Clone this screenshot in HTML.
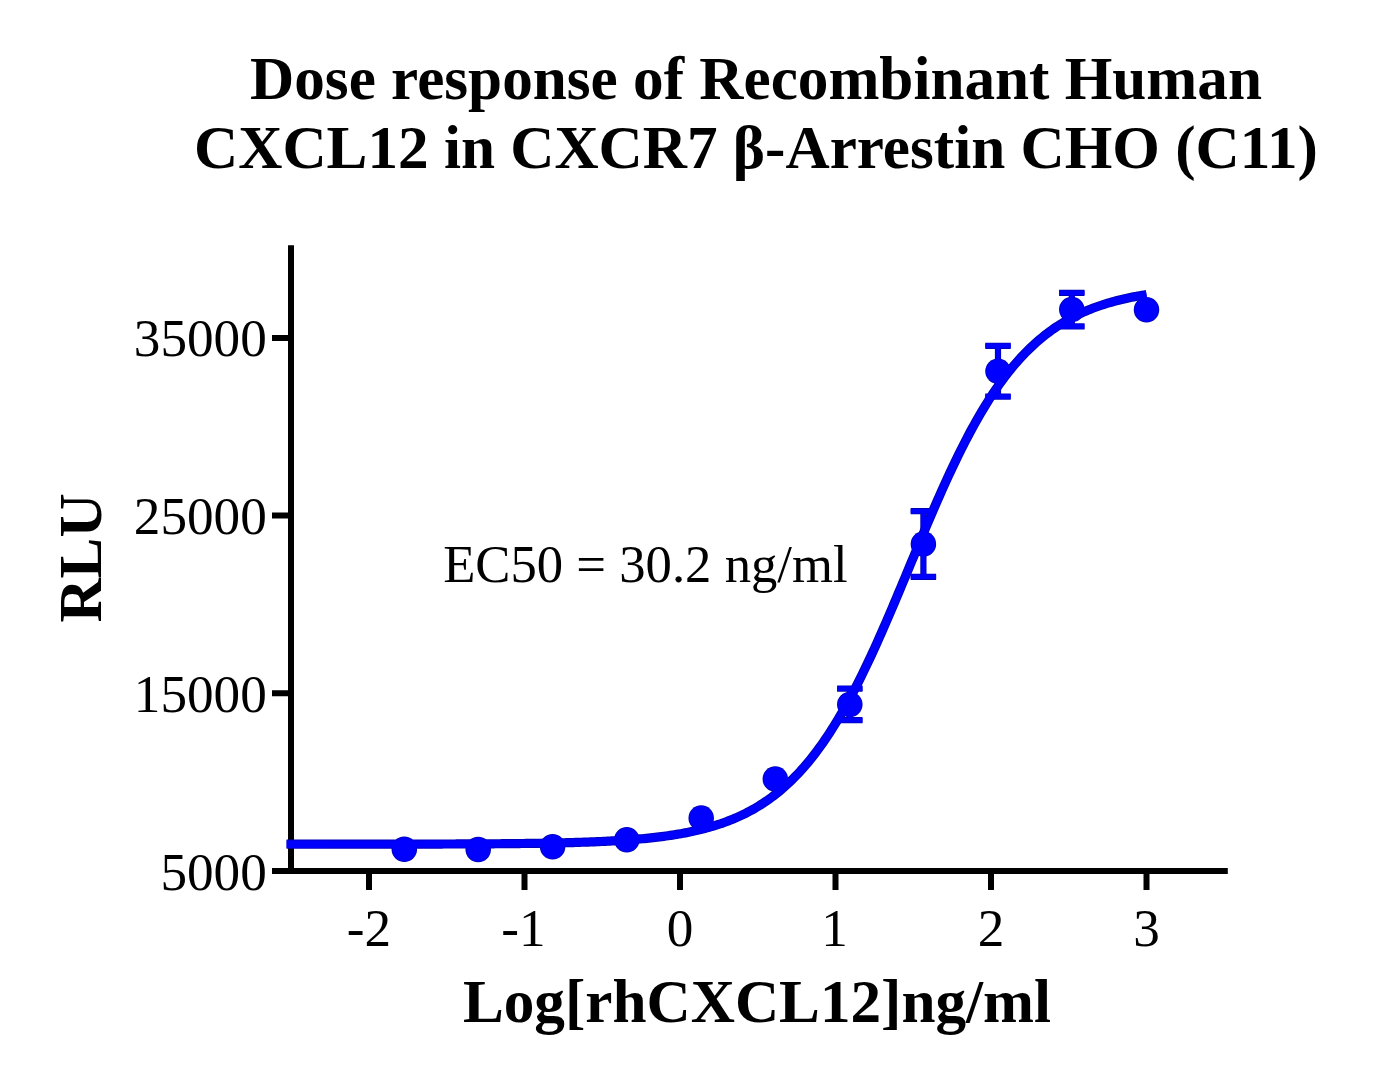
<!DOCTYPE html>
<html><head><meta charset="utf-8"><style>
html,body{margin:0;padding:0;background:#fff;}
svg{display:block;}
text{font-family:"Liberation Serif",serif;fill:#000;}
.t{font-weight:bold;font-size:61.2px;}
.n{font-size:53.2px;}
.e{font-size:52.7px;}
</style></head><body>
<svg width="1375" height="1080" viewBox="0 0 1375 1080">
<rect width="1375" height="1080" fill="#fff"/>
<text class="t" x="756" y="99.3" text-anchor="middle">Dose response of Recombinant Human</text>
<text class="t" x="756" y="168.3" text-anchor="middle">CXCL12 in CXCR7 β-Arrestin CHO (C11)</text>
<g stroke="#000" stroke-width="6" fill="none" stroke-linecap="butt">
<path d="M291,245.3 V874 M272,871 H1227.8"/>
<path d="M272,871.0 H291 M272,693.3 H291 M272,515.6 H291 M272,337.9 H291 M369.0,871 V890 M524.5,871 V890 M680.0,871 V890 M835.5,871 V890 M991.0,871 V890 M1146.5,871 V890 "/>
</g>
<g class="n">
<text x="266.8" y="889.5" text-anchor="end">5000</text>
<text x="266.8" y="711.8" text-anchor="end">15000</text>
<text x="266.8" y="534.1" text-anchor="end">25000</text>
<text x="266.8" y="356.4" text-anchor="end">35000</text>
<text x="369.0" y="946" text-anchor="middle">-2</text>
<text x="523.5" y="946" text-anchor="middle">-1</text>
<text x="680.0" y="946" text-anchor="middle">0</text>
<text x="834.5" y="946" text-anchor="middle">1</text>
<text x="991.0" y="946" text-anchor="middle">2</text>
<text x="1146.5" y="946" text-anchor="middle">3</text>
</g>
<text class="t" x="757" y="1022.4" text-anchor="middle">Log[rhCXCL12]ng/ml</text>
<text class="t" transform="translate(100.7,558) rotate(-90)" text-anchor="middle">RLU</text>
<text class="e" x="443.2" y="581.8">EC50 = 30.2 ng/ml</text>
<g fill="none" stroke="#0000b8" stroke-linejoin="round"><path d="M286.59,844.19 L288.74,844.19 L290.90,844.19 L293.05,844.19 L295.21,844.19 L297.36,844.19 L299.52,844.19 L301.67,844.18 L303.83,844.18 L305.98,844.18 L308.14,844.18 L310.29,844.18 L312.45,844.18 L314.60,844.18 L316.76,844.18 L318.91,844.18 L321.07,844.18 L323.22,844.18 L325.38,844.18 L327.53,844.18 L329.69,844.17 L331.84,844.17 L334.00,844.17 L336.15,844.17 L338.31,844.17 L340.46,844.17 L342.62,844.17 L344.77,844.17 L346.93,844.17 L349.09,844.16 L351.24,844.16 L353.40,844.16 L355.55,844.16 L357.71,844.16 L359.86,844.16 L362.02,844.16 L364.17,844.15 L366.33,844.15 L368.48,844.15 L370.64,844.15 L372.79,844.15 L374.95,844.15 L377.10,844.14 L379.26,844.14 L381.41,844.14 L383.57,844.14 L385.72,844.13 L387.88,844.13 L390.03,844.13 L392.19,844.13 L394.34,844.12 L396.50,844.12 L398.65,844.12 L400.81,844.11 L402.96,844.11 L405.12,844.11 L407.27,844.10 L409.43,844.10 L411.59,844.10 L413.74,844.09 L415.90,844.09 L418.05,844.08 L420.21,844.08 L422.36,844.08 L424.52,844.07 L426.67,844.07 L428.83,844.06 L430.98,844.06 L433.14,844.05 L435.29,844.04 L437.45,844.04 L439.60,844.03 L441.76,844.03 L443.91,844.02 L446.07,844.01 L448.22,844.01 L450.38,844.00 L452.53,843.99 L454.69,843.98 L456.84,843.97 L459.00,843.97 L461.15,843.96 L463.31,843.95 L465.46,843.94 L467.62,843.93 L469.77,843.92 L471.93,843.91 L474.09,843.90 L476.24,843.89 L478.40,843.87 L480.55,843.86 L482.71,843.85 L484.86,843.83 L487.02,843.82 L489.17,843.81 L491.33,843.79 L493.48,843.78 L495.64,843.76 L497.79,843.74 L499.95,843.73 L502.10,843.71 L504.26,843.69 L506.41,843.67 L508.57,843.65 L510.72,843.63 L512.88,843.61 L515.03,843.59 L517.19,843.56 L519.34,843.54 L521.50,843.51 L523.65,843.49 L525.81,843.46 L527.96,843.43 L530.12,843.40 L532.27,843.37 L534.43,843.34 L536.59,843.31 L538.74,843.28 L540.90,843.24 L543.05,843.21 L545.21,843.17 L547.36,843.13 L549.52,843.09 L551.67,843.05 L553.83,843.00 L555.98,842.96 L558.14,842.91 L560.29,842.86 L562.45,842.81 L564.60,842.76 L566.76,842.70 L568.91,842.65 L571.07,842.59 L573.22,842.53 L575.38,842.47 L577.53,842.40 L579.69,842.33 L581.84,842.26 L584.00,842.19 L586.15,842.11 L588.31,842.03 L590.46,841.95 L592.62,841.87 L594.78,841.78 L596.93,841.69 L599.09,841.59 L601.24,841.50 L603.40,841.40 L605.55,841.29 L607.71,841.18 L609.86,841.07 L612.02,840.95 L614.17,840.83 L616.33,840.70 L618.48,840.57 L620.64,840.43 L622.79,840.29 L624.95,840.14 L627.10,839.99 L629.26,839.83 L631.41,839.67 L633.57,839.50 L635.72,839.32 L637.88,839.14 L640.03,838.95 L642.19,838.75 L644.34,838.55 L646.50,838.34 L648.65,838.12 L650.81,837.89 L652.96,837.65 L655.12,837.41 L657.28,837.15 L659.43,836.89 L661.59,836.62 L663.74,836.34 L665.90,836.04 L668.05,835.74 L670.21,835.42 L672.36,835.10 L674.52,834.76 L676.67,834.41 L678.83,834.04 L680.98,833.67 L683.14,833.27 L685.29,832.87 L687.45,832.45 L689.60,832.01 L691.76,831.56 L693.91,831.10 L696.07,830.61 L698.22,830.11 L700.38,829.59 L702.53,829.05 L704.69,828.50 L706.84,827.92 L709.00,827.32 L711.15,826.70 L713.31,826.06 L715.46,825.40 L717.62,824.71 L719.78,824.00 L721.93,823.27 L724.09,822.51 L726.24,821.72 L728.40,820.90 L730.55,820.06 L732.71,819.19 L734.86,818.28 L737.02,817.35 L739.17,816.38 L741.33,815.39 L743.48,814.35 L745.64,813.29 L747.79,812.18 L749.95,811.04 L752.10,809.87 L754.26,808.65 L756.41,807.39 L758.57,806.09 L760.72,804.75 L762.88,803.37 L765.03,801.94 L767.19,800.47 L769.34,798.95 L771.50,797.38 L773.65,795.76 L775.81,794.09 L777.97,792.37 L780.12,790.60 L782.28,788.77 L784.43,786.89 L786.59,784.95 L788.74,782.95 L790.90,780.89 L793.05,778.78 L795.21,776.60 L797.36,774.36 L799.52,772.06 L801.67,769.70 L803.83,767.26 L805.98,764.77 L808.14,762.20 L810.29,759.57 L812.45,756.86 L814.60,754.09 L816.76,751.25 L818.91,748.33 L821.07,745.35 L823.22,742.29 L825.38,739.16 L827.53,735.95 L829.69,732.67 L831.84,729.32 L834.00,725.89 L836.15,722.39 L838.31,718.81 L840.47,715.16 L842.62,711.44 L844.78,707.64 L846.93,703.77 L849.09,699.83 L851.24,695.82 L853.40,691.73 L855.55,687.58 L857.71,683.36 L859.86,679.07 L862.02,674.71 L864.17,670.30 L866.33,665.81 L868.48,661.27 L870.64,656.67 L872.79,652.02 L874.95,647.30 L877.10,642.54 L879.26,637.73 L881.41,632.87 L883.57,627.96 L885.72,623.02 L887.88,618.03 L890.03,613.01 L892.19,607.96 L894.34,602.88 L896.50,597.77 L898.65,592.65 L900.81,587.50 L902.97,582.33 L905.12,577.16 L907.28,571.97 L909.43,566.78 L911.59,561.59 L913.74,556.40 L915.90,551.22 L918.05,546.05 L920.21,540.88 L922.36,535.74 L924.52,530.61 L926.67,525.51 L928.83,520.44 L930.98,515.39 L933.14,510.38 L935.29,505.40 L937.45,500.46 L939.60,495.57 L941.76,490.72 L943.91,485.92 L946.07,481.16 L948.22,476.46 L950.38,471.81 L952.53,467.23 L954.69,462.70 L956.84,458.23 L959.00,453.82 L961.15,449.48 L963.31,445.20 L965.47,440.99 L967.62,436.85 L969.78,432.78 L971.93,428.79 L974.09,424.86 L976.24,421.00 L978.40,417.22 L980.55,413.51 L982.71,409.87 L984.86,406.31 L987.02,402.83 L989.17,399.41 L991.33,396.07 L993.48,392.81 L995.64,389.62 L997.79,386.50 L999.95,383.46 L1002.10,380.48 L1004.26,377.58 L1006.41,374.75 L1008.57,372.00 L1010.72,369.31 L1012.88,366.69 L1015.03,364.14 L1017.19,361.65 L1019.34,359.23 L1021.50,356.88 L1023.65,354.59 L1025.81,352.36 L1027.97,350.20 L1030.12,348.10 L1032.28,346.05 L1034.43,344.07 L1036.59,342.14 L1038.74,340.27 L1040.90,338.45 L1043.05,336.69 L1045.21,334.98 L1047.36,333.32 L1049.52,331.71 L1051.67,330.15 L1053.83,328.64 L1055.98,327.17 L1058.14,325.75 L1060.29,324.38 L1062.45,323.05 L1064.60,321.76 L1066.76,320.51 L1068.91,319.30 L1071.07,318.13 L1073.22,317.00 L1075.38,315.90 L1077.53,314.84 L1079.69,313.81 L1081.84,312.82 L1084.00,311.86 L1086.16,310.94 L1088.31,310.04 L1090.47,309.17 L1092.62,308.33 L1094.78,307.52 L1096.93,306.74 L1099.09,305.99 L1101.24,305.25 L1103.40,304.55 L1105.55,303.87 L1107.71,303.21 L1109.86,302.57 L1112.02,301.96 L1114.17,301.36 L1116.33,300.79 L1118.48,300.24 L1120.64,299.70 L1122.79,299.19 L1124.95,298.69 L1127.10,298.21 L1129.26,297.75 L1131.41,297.30 L1133.57,296.87 L1135.72,296.45 L1137.88,296.05 L1140.03,295.66 L1142.19,295.28 L1144.34,294.92 L1146.50,294.57" stroke-width="9.2"/><g stroke-width="6.2"><path d="M849.8,688.6 V720.1999999999999 M837.0999999999999,688.6 H862.5 M837.0999999999999,720.1999999999999 H862.5"/><path d="M923.4,511.2 V576.8 M910.6999999999999,511.2 H936.1 M910.6999999999999,576.8 H936.1"/><path d="M998,345.8 V396.59999999999997 M985.3,345.8 H1010.7 M985.3,396.59999999999997 H1010.7"/><path d="M1071.8,292.8 V326.40000000000003 M1059.1,292.8 H1084.5 M1059.1,326.40000000000003 H1084.5"/></g></g>
<g fill="#0000b8"><circle cx="404.3" cy="849.2" r="12.75"/><circle cx="478.2" cy="849.5" r="12.75"/><circle cx="552.6" cy="846.7" r="12.75"/><circle cx="626.8" cy="839.8" r="12.75"/><circle cx="701.2" cy="818" r="12.75"/><circle cx="775.3" cy="778.9" r="12.75"/><circle cx="849.8" cy="704.4" r="12.75"/><circle cx="923.4" cy="544" r="12.75"/><circle cx="998" cy="371.2" r="12.75"/><circle cx="1071.8" cy="309.6" r="12.75"/><circle cx="1146.5" cy="309.7" r="12.75"/></g>
<g fill="none" stroke="#0000ff" stroke-linejoin="round"><path d="M286.59,844.19 L288.74,844.19 L290.90,844.19 L293.05,844.19 L295.21,844.19 L297.36,844.19 L299.52,844.19 L301.67,844.18 L303.83,844.18 L305.98,844.18 L308.14,844.18 L310.29,844.18 L312.45,844.18 L314.60,844.18 L316.76,844.18 L318.91,844.18 L321.07,844.18 L323.22,844.18 L325.38,844.18 L327.53,844.18 L329.69,844.17 L331.84,844.17 L334.00,844.17 L336.15,844.17 L338.31,844.17 L340.46,844.17 L342.62,844.17 L344.77,844.17 L346.93,844.17 L349.09,844.16 L351.24,844.16 L353.40,844.16 L355.55,844.16 L357.71,844.16 L359.86,844.16 L362.02,844.16 L364.17,844.15 L366.33,844.15 L368.48,844.15 L370.64,844.15 L372.79,844.15 L374.95,844.15 L377.10,844.14 L379.26,844.14 L381.41,844.14 L383.57,844.14 L385.72,844.13 L387.88,844.13 L390.03,844.13 L392.19,844.13 L394.34,844.12 L396.50,844.12 L398.65,844.12 L400.81,844.11 L402.96,844.11 L405.12,844.11 L407.27,844.10 L409.43,844.10 L411.59,844.10 L413.74,844.09 L415.90,844.09 L418.05,844.08 L420.21,844.08 L422.36,844.08 L424.52,844.07 L426.67,844.07 L428.83,844.06 L430.98,844.06 L433.14,844.05 L435.29,844.04 L437.45,844.04 L439.60,844.03 L441.76,844.03 L443.91,844.02 L446.07,844.01 L448.22,844.01 L450.38,844.00 L452.53,843.99 L454.69,843.98 L456.84,843.97 L459.00,843.97 L461.15,843.96 L463.31,843.95 L465.46,843.94 L467.62,843.93 L469.77,843.92 L471.93,843.91 L474.09,843.90 L476.24,843.89 L478.40,843.87 L480.55,843.86 L482.71,843.85 L484.86,843.83 L487.02,843.82 L489.17,843.81 L491.33,843.79 L493.48,843.78 L495.64,843.76 L497.79,843.74 L499.95,843.73 L502.10,843.71 L504.26,843.69 L506.41,843.67 L508.57,843.65 L510.72,843.63 L512.88,843.61 L515.03,843.59 L517.19,843.56 L519.34,843.54 L521.50,843.51 L523.65,843.49 L525.81,843.46 L527.96,843.43 L530.12,843.40 L532.27,843.37 L534.43,843.34 L536.59,843.31 L538.74,843.28 L540.90,843.24 L543.05,843.21 L545.21,843.17 L547.36,843.13 L549.52,843.09 L551.67,843.05 L553.83,843.00 L555.98,842.96 L558.14,842.91 L560.29,842.86 L562.45,842.81 L564.60,842.76 L566.76,842.70 L568.91,842.65 L571.07,842.59 L573.22,842.53 L575.38,842.47 L577.53,842.40 L579.69,842.33 L581.84,842.26 L584.00,842.19 L586.15,842.11 L588.31,842.03 L590.46,841.95 L592.62,841.87 L594.78,841.78 L596.93,841.69 L599.09,841.59 L601.24,841.50 L603.40,841.40 L605.55,841.29 L607.71,841.18 L609.86,841.07 L612.02,840.95 L614.17,840.83 L616.33,840.70 L618.48,840.57 L620.64,840.43 L622.79,840.29 L624.95,840.14 L627.10,839.99 L629.26,839.83 L631.41,839.67 L633.57,839.50 L635.72,839.32 L637.88,839.14 L640.03,838.95 L642.19,838.75 L644.34,838.55 L646.50,838.34 L648.65,838.12 L650.81,837.89 L652.96,837.65 L655.12,837.41 L657.28,837.15 L659.43,836.89 L661.59,836.62 L663.74,836.34 L665.90,836.04 L668.05,835.74 L670.21,835.42 L672.36,835.10 L674.52,834.76 L676.67,834.41 L678.83,834.04 L680.98,833.67 L683.14,833.27 L685.29,832.87 L687.45,832.45 L689.60,832.01 L691.76,831.56 L693.91,831.10 L696.07,830.61 L698.22,830.11 L700.38,829.59 L702.53,829.05 L704.69,828.50 L706.84,827.92 L709.00,827.32 L711.15,826.70 L713.31,826.06 L715.46,825.40 L717.62,824.71 L719.78,824.00 L721.93,823.27 L724.09,822.51 L726.24,821.72 L728.40,820.90 L730.55,820.06 L732.71,819.19 L734.86,818.28 L737.02,817.35 L739.17,816.38 L741.33,815.39 L743.48,814.35 L745.64,813.29 L747.79,812.18 L749.95,811.04 L752.10,809.87 L754.26,808.65 L756.41,807.39 L758.57,806.09 L760.72,804.75 L762.88,803.37 L765.03,801.94 L767.19,800.47 L769.34,798.95 L771.50,797.38 L773.65,795.76 L775.81,794.09 L777.97,792.37 L780.12,790.60 L782.28,788.77 L784.43,786.89 L786.59,784.95 L788.74,782.95 L790.90,780.89 L793.05,778.78 L795.21,776.60 L797.36,774.36 L799.52,772.06 L801.67,769.70 L803.83,767.26 L805.98,764.77 L808.14,762.20 L810.29,759.57 L812.45,756.86 L814.60,754.09 L816.76,751.25 L818.91,748.33 L821.07,745.35 L823.22,742.29 L825.38,739.16 L827.53,735.95 L829.69,732.67 L831.84,729.32 L834.00,725.89 L836.15,722.39 L838.31,718.81 L840.47,715.16 L842.62,711.44 L844.78,707.64 L846.93,703.77 L849.09,699.83 L851.24,695.82 L853.40,691.73 L855.55,687.58 L857.71,683.36 L859.86,679.07 L862.02,674.71 L864.17,670.30 L866.33,665.81 L868.48,661.27 L870.64,656.67 L872.79,652.02 L874.95,647.30 L877.10,642.54 L879.26,637.73 L881.41,632.87 L883.57,627.96 L885.72,623.02 L887.88,618.03 L890.03,613.01 L892.19,607.96 L894.34,602.88 L896.50,597.77 L898.65,592.65 L900.81,587.50 L902.97,582.33 L905.12,577.16 L907.28,571.97 L909.43,566.78 L911.59,561.59 L913.74,556.40 L915.90,551.22 L918.05,546.05 L920.21,540.88 L922.36,535.74 L924.52,530.61 L926.67,525.51 L928.83,520.44 L930.98,515.39 L933.14,510.38 L935.29,505.40 L937.45,500.46 L939.60,495.57 L941.76,490.72 L943.91,485.92 L946.07,481.16 L948.22,476.46 L950.38,471.81 L952.53,467.23 L954.69,462.70 L956.84,458.23 L959.00,453.82 L961.15,449.48 L963.31,445.20 L965.47,440.99 L967.62,436.85 L969.78,432.78 L971.93,428.79 L974.09,424.86 L976.24,421.00 L978.40,417.22 L980.55,413.51 L982.71,409.87 L984.86,406.31 L987.02,402.83 L989.17,399.41 L991.33,396.07 L993.48,392.81 L995.64,389.62 L997.79,386.50 L999.95,383.46 L1002.10,380.48 L1004.26,377.58 L1006.41,374.75 L1008.57,372.00 L1010.72,369.31 L1012.88,366.69 L1015.03,364.14 L1017.19,361.65 L1019.34,359.23 L1021.50,356.88 L1023.65,354.59 L1025.81,352.36 L1027.97,350.20 L1030.12,348.10 L1032.28,346.05 L1034.43,344.07 L1036.59,342.14 L1038.74,340.27 L1040.90,338.45 L1043.05,336.69 L1045.21,334.98 L1047.36,333.32 L1049.52,331.71 L1051.67,330.15 L1053.83,328.64 L1055.98,327.17 L1058.14,325.75 L1060.29,324.38 L1062.45,323.05 L1064.60,321.76 L1066.76,320.51 L1068.91,319.30 L1071.07,318.13 L1073.22,317.00 L1075.38,315.90 L1077.53,314.84 L1079.69,313.81 L1081.84,312.82 L1084.00,311.86 L1086.16,310.94 L1088.31,310.04 L1090.47,309.17 L1092.62,308.33 L1094.78,307.52 L1096.93,306.74 L1099.09,305.99 L1101.24,305.25 L1103.40,304.55 L1105.55,303.87 L1107.71,303.21 L1109.86,302.57 L1112.02,301.96 L1114.17,301.36 L1116.33,300.79 L1118.48,300.24 L1120.64,299.70 L1122.79,299.19 L1124.95,298.69 L1127.10,298.21 L1129.26,297.75 L1131.41,297.30 L1133.57,296.87 L1135.72,296.45 L1137.88,296.05 L1140.03,295.66 L1142.19,295.28 L1144.34,294.92 L1146.50,294.57" stroke-width="7.4"/><g stroke-width="4.6"><path d="M849.8,688.6 V720.1999999999999 M837.0999999999999,688.6 H862.5 M837.0999999999999,720.1999999999999 H862.5"/><path d="M923.4,511.2 V576.8 M910.6999999999999,511.2 H936.1 M910.6999999999999,576.8 H936.1"/><path d="M998,345.8 V396.59999999999997 M985.3,345.8 H1010.7 M985.3,396.59999999999997 H1010.7"/><path d="M1071.8,292.8 V326.40000000000003 M1059.1,292.8 H1084.5 M1059.1,326.40000000000003 H1084.5"/></g></g>
<g fill="#0000ff"><circle cx="404.3" cy="849.2" r="11.95"/><circle cx="478.2" cy="849.5" r="11.95"/><circle cx="552.6" cy="846.7" r="11.95"/><circle cx="626.8" cy="839.8" r="11.95"/><circle cx="701.2" cy="818" r="11.95"/><circle cx="775.3" cy="778.9" r="11.95"/><circle cx="849.8" cy="704.4" r="11.95"/><circle cx="923.4" cy="544" r="11.95"/><circle cx="998" cy="371.2" r="11.95"/><circle cx="1071.8" cy="309.6" r="11.95"/><circle cx="1146.5" cy="309.7" r="11.95"/></g>
</svg>
</body></html>
